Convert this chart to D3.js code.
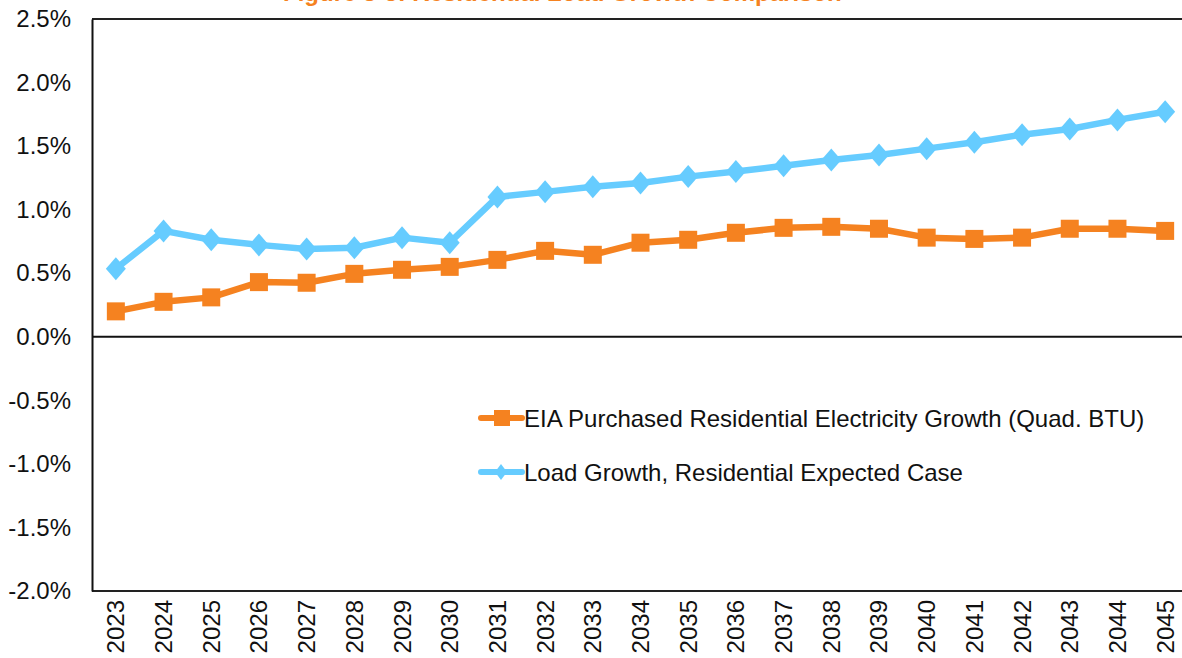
<!DOCTYPE html>
<html lang="en">
<head>
  <meta charset="UTF-8">
  <title>Residential Growth Comparison</title>
  <script src="https://d3js.org/d3.v7.min.js"></script>
  <style>
    body { margin: 0; background: white; font-family: "Liberation Sans", Arial, sans-serif; }
    svg { display: block; }
  </style>
</head>
<body>
  <svg width="1182" height="658"></svg>
  <script>
    const years = d3.range(2023, 2046).map(String);
    const yTicks = [-2.0, -1.5, -1.0, -0.5, 0.0, 0.5, 1.0, 1.5, 2.0, 2.5];

    const eiaValues = [0.20, 0.275, 0.31, 0.43, 0.425, 0.495, 0.527, 0.55, 0.605, 0.676, 0.645,
      0.74, 0.763, 0.818, 0.857, 0.865, 0.85, 0.78, 0.77, 0.78, 0.85, 0.85, 0.833];
    const loadValues = [0.535, 0.833, 0.763, 0.723, 0.69, 0.70, 0.78, 0.74, 1.10, 1.14, 1.18,
      1.21, 1.26, 1.30, 1.345, 1.39, 1.43, 1.48, 1.53, 1.59, 1.635, 1.706, 1.77];

    const seriesNames = [
      "EIA Purchased Residential Electricity Growth (Quad. BTU)",
      "Load Growth, Residential Expected Case"
    ];

    const orange = "#F58220";
    const blue = "#66CCFF";

    const svg = d3.select("svg");
    const plotLeft = 92, plotTop = 19, plotBottom = 591, plotRight = 1189;

    const x = d3.scalePoint().domain(years).range([plotLeft, plotRight]).padding(0.5);
    const y = d3.scaleLinear().domain([-2, 2.5]).range([plotBottom, plotTop]);

    // title, cut off by the top edge as in the source image
    svg.append("text")
      .attr("x", 283).attr("y", 1)
      .attr("fill", orange)
      .attr("font-size", "24px")
      .attr("font-weight", "bold")
      .text("Figure 5-3: Residential Load Growth Comparison");

    // frame
    svg.append("line").attr("x1", plotLeft).attr("x2", 1182).attr("y1", plotTop).attr("y2", plotTop)
      .attr("stroke", "#222").attr("stroke-width", 2);
    svg.append("line").attr("x1", plotLeft).attr("x2", 1182).attr("y1", plotBottom).attr("y2", plotBottom)
      .attr("stroke", "#222").attr("stroke-width", 2);
    svg.append("line").attr("x1", plotLeft).attr("x2", 1182).attr("y1", y(0)).attr("y2", y(0))
      .attr("stroke", "#111").attr("stroke-width", 2);

    // y axis
    const yAxis = svg.append("g")
      .attr("transform", `translate(${plotLeft},0)`)
      .call(d3.axisLeft(y).tickValues(yTicks).tickSize(0).tickPadding(21)
        .tickFormat(d => d.toFixed(1) + "%"));
    yAxis.select(".domain").attr("stroke", "#111").attr("stroke-width", 2);
    yAxis.selectAll("text")
      .attr("font-family", "'Liberation Sans', Arial, sans-serif")
      .attr("font-size", "24px")
      .attr("fill", "#111");

    // x labels
    svg.append("g").selectAll("text")
      .data(years).enter().append("text")
      .attr("transform", d => `translate(${x(d)},600) rotate(-90)`)
      .attr("text-anchor", "end")
      .attr("dominant-baseline", "central")
      .attr("font-size", "24px")
      .attr("fill", "#111")
      .text(d => d);

    const line = d3.line().x((d, i) => x(years[i])).y(d => y(d));

    // EIA series (squares)
    svg.append("path").datum(eiaValues)
      .attr("d", line).attr("fill", "none")
      .attr("stroke", orange).attr("stroke-width", 6.5).attr("stroke-linejoin", "round");
    svg.append("g").selectAll("rect")
      .data(eiaValues).enter().append("rect")
      .attr("x", (d, i) => x(years[i]) - 9)
      .attr("y", d => y(d) - 9)
      .attr("width", 18).attr("height", 18)
      .attr("fill", orange);

    // Load series (diamonds)
    const diamond = "M0,-11.5L10,0L0,11.5L-10,0Z";
    svg.append("path").datum(loadValues)
      .attr("d", line).attr("fill", "none")
      .attr("stroke", blue).attr("stroke-width", 6.5).attr("stroke-linejoin", "round");
    svg.append("g").selectAll("path")
      .data(loadValues).enter().append("path")
      .attr("d", diamond)
      .attr("transform", (d, i) => `translate(${x(years[i])},${y(d)})`)
      .attr("fill", blue);

    // legend
    const legend = svg.append("g");
    const legendRows = [
      { name: seriesNames[0], color: orange, marker: "square", y: 418 },
      { name: seriesNames[1], color: blue, marker: "diamond", y: 472 }
    ];
    legendRows.forEach(r => {
      legend.append("line")
        .attr("x1", 481).attr("x2", 522).attr("y1", r.y).attr("y2", r.y)
        .attr("stroke", r.color).attr("stroke-width", 6).attr("stroke-linecap", "round");
      if (r.marker === "square") {
        legend.append("rect").attr("x", 494).attr("y", r.y - 8)
          .attr("width", 16).attr("height", 16).attr("fill", r.color);
      } else {
        legend.append("path").attr("d", "M0,-8L6,0L0,8L-6,0Z")
          .attr("transform", `translate(501,${r.y})`).attr("fill", r.color);
      }
      legend.append("text")
        .attr("x", 524).attr("y", r.y + 8.5)
        .attr("font-size", "24px")
        .attr("fill", "#111")
        .text(r.name);
    });
  </script>
</body>
</html>
